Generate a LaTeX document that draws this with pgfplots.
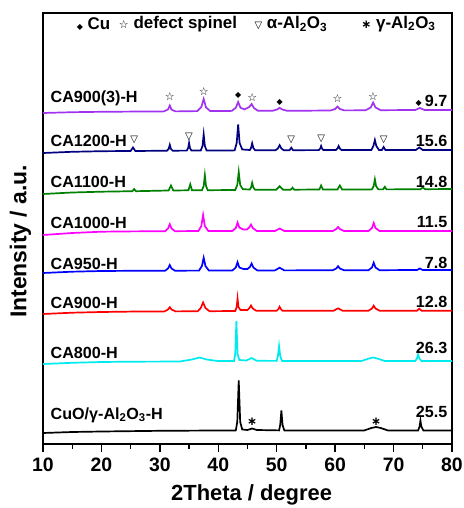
\documentclass[border=0pt]{standalone}
\usepackage{pgfplots}
\pgfplotsset{compat=1.18}
\usepackage{fontspec}
\setmainfont{Liberation Sans}
\newfontfamily\symfont{DejaVu Sans}
\definecolor{cpurple}{RGB}{160,50,240}
\definecolor{cnavy}{RGB}{0,0,128}
\definecolor{cgreen}{RGB}{0,128,0}
\definecolor{cmag}{RGB}{255,0,255}
\definecolor{cblue}{RGB}{0,0,255}
\definecolor{cred}{RGB}{255,0,0}
\definecolor{ccyan}{RGB}{0,235,240}
\newcommand\lab{\fontsize{16.2}{16.2}\selectfont\bfseries}
\newcommand\hdr{\fontsize{17}{17}\selectfont\bfseries}
\begin{document}
\begin{tikzpicture}
\useasboundingbox (-43bp,-64bp) rectangle (421bp,444bp);
\begin{axis}[
  scale only axis, width=409bp, height=431bp,
  xmin=10, xmax=80, ymin=0, ymax=431,
  xtick={10,20,...,80}, minor x tick num=1,
  ytick=\empty, xtick pos=bottom, tick align=outside,
  major tick length=8bp, minor tick length=5bp,
  axis line style={line width=1.5bp},
  every tick/.style={line width=1.3bp, black},
  /pgf/number format/assume math mode=true,
  xticklabel style={font=\fontsize{19.5}{19.5}\selectfont\bfseries, yshift=-2bp},
  xlabel={2Theta / degree}, ylabel={Intensity / a.u.},
  xlabel style={font=\fontsize{22}{22}\selectfont\bfseries, at={(axis description cs:0.51,0)}, anchor=center, yshift=-51bp},
  ylabel style={font=\fontsize{23}{23}\selectfont\bfseries, at={(axis description cs:-0.055,0.47)}, anchor=center},
  every axis plot/.append style={line width=1.7bp},
  clip=false,
]
% CA900(3)-H
\addplot[cpurple] coordinates {(10,331) (15,331.8) (20,332.2) (25,332.4) (30.7,332.6) (31.4,334.6) (31.7,338.5) (32.0,334.3) (32.7,332.6) (36.4,332.9) (37.1,337) (37.5,345) (37.9,336.6) (38.6,333) (42.3,333.1) (43.0,336.2) (43.4,342) (43.8,336.2) (44.5,334.6) (45.3,337) (45.7,340) (46.1,336) (46.8,333.2) (49.3,333.2) (50.1,334.6) (50.5,336.2) (50.9,334.6) (51.7,333.3) (55,333.3) (59.2,333.5) (60.0,335) (60.4,337.5) (60.8,335) (61.6,333.6) (65.2,333.7) (66.1,336.5) (66.5,341.5) (66.9,336.5) (67.8,333.8) (73.7,334) (74.5,336) (75.3,334) (80,334)};
% CA1200-H
\addplot[cnavy] coordinates {(10,291) (15,292.2) (20,292.8) (25.0,293) (25.4,296.5) (25.8,293) (31.2,293.3) (31.5,295) (31.7,299.2) (31.9,295) (32.2,293.3) (34.6,293.4) (34.85,296) (35.0,301) (35.15,296) (35.4,293.4) (37.0,293.5) (37.3,298) (37.5,309.5) (37.7,298) (38.0,293.5) (42.8,293.6) (43.15,301) (43.4,319.5) (43.65,301) (44.1,294.5) (45.4,294) (45.6,296) (45.8,300.7) (46.0,296) (46.3,293.8) (49.8,293.8) (50.2,295.5) (50.5,298.8) (50.8,295.5) (51.2,293.8) (52.2,293.8) (52.5,296.3) (52.8,293.8) (57.2,293.9) (57.45,295.5) (57.6,298) (57.75,295.5) (58.0,293.9) (60.1,293.9) (60.4,295.5) (60.6,298) (60.8,295.5) (61.1,293.9) (66.2,294) (66.55,298) (66.8,304) (67.05,298) (67.5,294) (68.0,294) (68.3,297) (68.6,294) (73.8,294) (74.4,296.5) (75.0,294) (80,294)};
% CA1100-H
\addplot[cgreen] coordinates {(10,250) (15,251.5) (20,252.3) (25.3,252.8) (25.6,255) (25.9,252.8) (31.5,253.5) (31.9,258.5) (32.3,253.5) (34.9,253.7) (35.2,259.7) (35.5,253.7) (37.2,253.8) (37.5,258) (37.7,268.8) (37.9,258) (38.2,253.8) (42.9,254) (43.25,259) (43.5,272) (43.75,259) (44.2,254.8) (45.4,254.5) (45.6,256.5) (45.8,261.2) (46.0,256.5) (46.3,254.2) (49.9,254.3) (50.5,257.8) (51.1,254.3) (52.4,254.3) (52.7,256.3) (53.0,254.3) (57.3,254.5) (57.6,258.5) (57.9,254.5) (60.4,254.5) (60.8,258.5) (61.2,254.5) (66.3,254.6) (66.6,258) (66.8,264.6) (67.0,258) (67.4,254.6) (68.2,254.6) (68.5,257.2) (68.8,254.6) (74.6,254.8) (75.0,256.5) (75.4,254.8) (80,255)};
% CA1000-H
\addplot[cmag] coordinates {(10,209) (15,211) (20,212.3) (25,212.6) (30.9,212.8) (31.4,215.5) (31.7,219.8) (32.0,215.5) (32.6,212.8) (36.6,213) (37.1,218) (37.4,229) (37.7,218) (38.3,213) (42.4,213) (43.0,216) (43.3,221.5) (43.6,216.5) (44.3,214.5) (44.9,214.5) (45.3,216.5) (45.6,219.5) (45.9,216) (46.6,213) (49.7,213) (50.5,215.5) (51.3,213) (59.6,213) (60.2,215) (60.5,217) (60.8,215) (61.5,213) (65.7,213) (66.3,216) (66.6,221) (66.9,216) (67.6,213) (80,213)};
% CA950-H
\addplot[cblue] coordinates {(10,171) (15,172.3) (20,173) (25,173.2) (30.9,173.3) (31.4,175.5) (31.7,179) (32.0,175.5) (32.6,173.3) (36.7,173.4) (37.2,178) (37.5,186.2) (37.8,178) (38.4,173.4) (42.4,173.5) (43.0,176.5) (43.3,181.8) (43.6,176.5) (44.3,175) (45.0,175) (45.4,177) (45.7,180.5) (46.0,176.5) (46.7,173.5) (49.7,173.6) (50.5,176.3) (51.3,173.6) (59.6,173.8) (60.2,175.5) (60.5,177.8) (60.8,175.5) (61.5,173.8) (65.7,173.8) (66.3,176.5) (66.6,181.3) (66.9,176.5) (67.6,173.8) (74.0,174) (74.5,175.5) (75.0,174) (80,174)};
% CA900-H
\addplot[cred] coordinates {(10,130) (15,131.3) (20,132) (25,132.4) (30.8,132.6) (31.4,134.5) (31.7,136.8) (32.0,134.5) (32.7,132.6) (36.5,132.8) (37.0,136) (37.4,141.5) (37.8,136) (38.5,132.8) (42.9,133) (43.15,137) (43.3,145.5) (43.45,137) (43.8,134) (45.0,134) (45.35,136) (45.6,138.5) (45.9,135.5) (46.5,133.2) (50.0,133.2) (50.3,135) (50.5,137.2) (50.7,135) (51.0,133.2) (59.7,133.2) (60.5,135.7) (61.3,133.2) (65.7,133.3) (66.3,135.5) (66.6,138.3) (66.9,135.5) (67.6,133.3) (74.0,133.3) (74.4,135.3) (74.8,133.3) (80,133.3)};
% CA800-H
\addplot[ccyan] coordinates {(10,80) (15,81.2) (20,82) (25,82.3) (30,82.4) (33.5,82.6) (35.5,84.5) (36.8,86.5) (38.0,84.5) (40,82.9) (42.7,83) (42.9,90) (43.1,123) (43.3,90) (43.6,84) (44.8,83.5) (45.7,86) (46.6,83.2) (50.0,83.1) (50.2,88) (50.4,98) (50.6,88) (50.9,83.1) (55,83) (64.5,83) (65.8,85.5) (66.5,86.5) (67.2,85.5) (68.5,83) (73.7,83) (74.0,85.5) (74.2,89.5) (74.4,85.5) (74.8,83) (80,83)};
% CuO/gamma-Al2O3-H
\addplot[black] coordinates {(10,11) (15,12) (20,12.5) (30,13.2) (40,13.5) (43.0,13.6) (43.25,22) (43.5,63.5) (43.75,22) (44.1,14.5) (45.0,14) (45.8,15.5) (46.6,14) (50.4,13.6) (50.6,19) (50.8,33.5) (51.0,19) (51.3,13.6) (60,13.5) (65.0,13.6) (66.2,16) (67.0,17) (67.8,16) (69.0,13.6) (74.2,13.5) (74.45,17.5) (74.6,23.5) (74.75,17.5) (75.1,13.5) (80,13.5)};
% phase markers
\addplot[only marks, mark=text, text mark={☆}, text mark as node=true, text mark style={font=\symfont\fontsize{11}{11}\selectfont, inner sep=0pt}] coordinates {(31.7,347) (37.5,352) (45.8,346) (60.4,345) (66.5,347)};
\addplot[only marks, mark=text, text mark={◆}, text mark as node=true, text mark style={font=\symfont\fontsize{8}{8}\selectfont, inner sep=0pt}] coordinates {(43.4,349) (50.5,342) (74.3,341)};
\addplot[only marks, mark=text, text mark={▽}, text mark as node=true, text mark style={font=\symfont\fontsize{10}{10}\selectfont, inner sep=0pt}] coordinates {(25.6,304) (35.0,307.5) (52.5,304) (57.6,305) (68.3,304)};
\addplot[only marks, mark=text, text mark={∗}, text mark as node=true, text mark style={font=\symfont\bfseries\fontsize{12}{12}\selectfont, inner sep=0pt}] coordinates {(45.8,22) (67.0,22)};
% header row
\node[anchor=west, font=\hdr] at (axis cs:15.2,420) {{\symfont\fontsize{8}{8}\selectfont ◆} Cu};
\node[anchor=west, font=\hdr] at (axis cs:22.4,420) {{\symfont\fontsize{11}{11}\selectfont ☆} defect spinel};
\node[anchor=west, font=\hdr] at (axis cs:45.6,420) {{\symfont\fontsize{10}{10}\selectfont ▽} α-Al\textsubscript{2}O\textsubscript{3}};
\node[anchor=west, font=\hdr] at (axis cs:63.9,420) {{\symfont\bfseries\fontsize{12}{12}\selectfont ∗} γ-Al\textsubscript{2}O\textsubscript{3}};
% sample labels
\node[anchor=west, font=\lab] at (axis cs:10.7,346) {CA900(3)-H};
\node[anchor=west, font=\lab] at (axis cs:10.7,303) {CA1200-H};
\node[anchor=west, font=\lab] at (axis cs:10.7,262) {CA1100-H};
\node[anchor=west, font=\lab] at (axis cs:10.7,221) {CA1000-H};
\node[anchor=west, font=\lab] at (axis cs:10.7,180) {CA950-H};
\node[anchor=west, font=\lab] at (axis cs:10.7,141) {CA900-H};
\node[anchor=west, font=\lab] at (axis cs:10.7,91) {CA800-H};
\node[anchor=west, font=\lab] at (axis cs:10.7,29) {CuO/γ-Al\textsubscript{2}O\textsubscript{3}-H};
% crystallite sizes
\node[anchor=east, font=\lab] at (axis cs:79.8,343) {9.7};
\node[anchor=east, font=\lab] at (axis cs:79.8,303) {15.6};
\node[anchor=east, font=\lab] at (axis cs:79.8,262) {14.8};
\node[anchor=east, font=\lab] at (axis cs:79.8,222) {11.5};
\node[anchor=east, font=\lab] at (axis cs:79.8,181) {7.8};
\node[anchor=east, font=\lab] at (axis cs:79.8,142) {12.8};
\node[anchor=east, font=\lab] at (axis cs:79.8,96) {26.3};
\node[anchor=east, font=\lab] at (axis cs:79.8,32) {25.5};
\end{axis}
\end{tikzpicture}
\end{document}
